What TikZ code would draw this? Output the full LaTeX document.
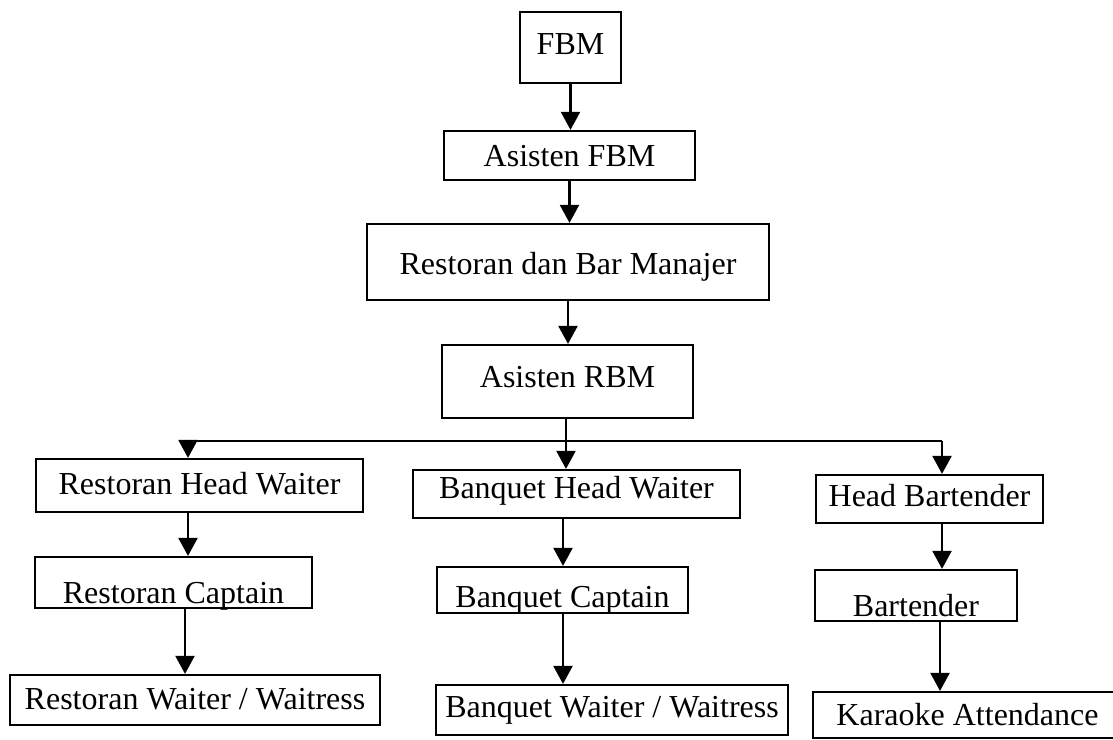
\documentclass[tikz,border=0pt]{standalone}
\usepackage{fontspec}
\setmainfont{Liberation Serif}
\usetikzlibrary{arrows.meta}
\tikzset{
  box/.style={draw, line width=2.2pt, inner sep=0pt, text depth=0pt, text height=21pt,
              font=\fontsize{32}{38}\selectfont},
  conn/.style={line width=2.2pt},
  arr/.style={line width=2.2pt, -{Triangle[length=18pt,width=19pt]}},
}
\begin{document}
\begin{tikzpicture}[x=1pt,y=-1pt]
\useasboundingbox (0,0) rectangle (1113,739);
% top chain
\node[box, minimum width=101pt, minimum height=71pt, text height=14pt] (fbm) at (570.5,47.5) {FBM};
\node[box, minimum width=251pt, minimum height=49pt] (afbm) at (569.5,155.5) {Asisten FBM};
\node[box, minimum width=402pt, minimum height=76pt, text height=25pt] (rdbm) at (568,262) {Restoran dan Bar Manajer};
\node[box, minimum width=251pt, minimum height=73pt, text height=11pt] (arbm) at (567.5,381.5) {Asisten RBM};
% left column
\node[box, minimum width=327pt, minimum height=53pt, text height=17pt] (rhw) at (199.5,485.5) {Restoran Head Waiter};
\node[box, minimum width=277pt, minimum height=51pt, text height=41pt] (rc) at (173.5,582.5) {Restoran Captain};
\node[box, minimum width=370pt, minimum height=50pt, text height=19pt] (rww) at (195,700) {Restoran Waiter / Waitress};
% middle column
\node[box, minimum width=327pt, minimum height=48pt, text height=9pt] (bhw) at (576.5,494) {Banquet Head Waiter};
\node[box, minimum width=251pt, minimum height=46pt, text height=35pt] (bc) at (562.5,590) {Banquet Captain};
\node[box, minimum width=352pt, minimum height=50pt, text height=15pt] (bww) at (612,710) {Banquet Waiter / Waitress};
% right column
\node[box, minimum width=227pt, minimum height=48pt, text height=15pt] (hb) at (929.5,499) {Head Bartender};
\node[box, minimum width=202pt, minimum height=51pt, text height=41pt] (bt) at (916,595.5) {Bartender};
\node[box, minimum width=309pt, minimum height=46pt, text height=21pt] (ka) at (967.5,715) {Karaoke Attendance};
% junction coordinates
\coordinate (jL) at (188,441);
\coordinate (jM) at (566,441);
\coordinate (jR) at (942,441);
% connectors
\draw[arr] (fbm.south) -- (afbm.north -| fbm.south);
\draw[arr] (afbm.south) -- (rdbm.north -| afbm.south);
\draw[arr] (rdbm.south) -- (arbm.north -| rdbm.south);
\draw[conn] (arbm.south -| jM) -- (jM);
\draw[arr] (jM) -- (bhw.north -| jM);
\draw[conn] (jL) -- (jR);
\draw[arr] (jL) -- (rhw.north -| jL);
\draw[arr] (jR) -- (hb.north -| jR);
\draw[arr] (rhw.south -| jL) -- (rc.north -| jL);
\draw[arr] ([xshift=-3pt]rc.south -| jL) -- ([xshift=-3pt]rww.north -| jL);
\draw[arr] ([xshift=-3pt]bhw.south -| jM) -- ([xshift=-3pt]bc.north -| jM);
\draw[arr] ([xshift=-3pt]bc.south -| jM) -- ([xshift=-3pt]bww.north -| jM);
\draw[arr] (hb.south -| jR) -- (bt.north -| jR);
\draw[arr] ([xshift=-2pt]bt.south -| jR) -- ([xshift=-2pt]ka.north -| jR);
\end{tikzpicture}
\end{document}
